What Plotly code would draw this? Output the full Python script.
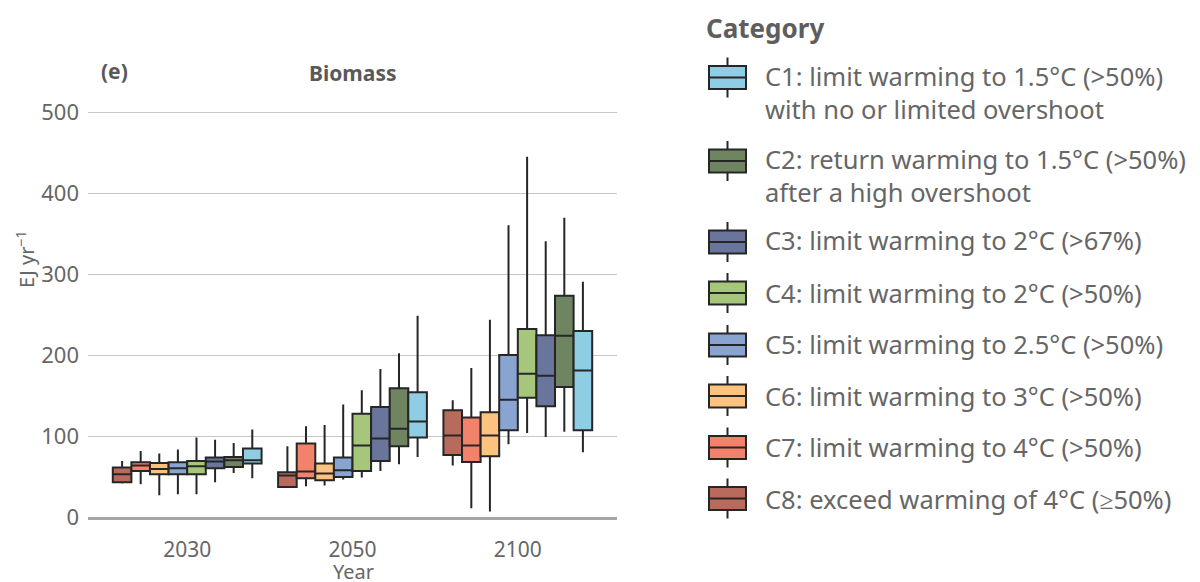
import plotly.graph_objects as go

years = ["2030", "2050", "2100"]

categories = ["C8", "C7", "C6", "C5", "C4", "C3", "C2", "C1"]
legend_text = {
    "C1": "C1: limit warming to 1.5°C (>50%)<br>with no or limited overshoot",
    "C2": "C2: return warming to 1.5°C (>50%)<br>after a high overshoot",
    "C3": "C3: limit warming to 2°C (>67%)",
    "C4": "C4: limit warming to 2°C (>50%)",
    "C5": "C5: limit warming to 2.5°C (>50%)",
    "C6": "C6: limit warming to 3°C (>50%)",
    "C7": "C7: limit warming to 4°C (>50%)",
    "C8": "C8: exceed warming of 4°C (≥50%)",
}
colors = {
    "C1": "#8fcde4", "C2": "#6f8460", "C3": "#69759a", "C4": "#a6c67c",
    "C5": "#8aa4d2", "C6": "#fcc280", "C7": "#f2826c", "C8": "#b86b5d",
}

# values per category for [2030, 2050, 2100]  (EJ/yr)
lower = {
    "C1": [47.8, 74.1, 79.9], "C2": [54.4, 65.1, 105.4], "C3": [42.9, 56.8, 98.8],
    "C4": [28.1, 48.7, 103.7], "C5": [28.1, 46.2, 89.8], "C6": [26.9, 38.8, 6.8],
    "C7": [40.4, 38.0, 10.9], "C8": [41.3, 36.4, 63.5],
}
q1 = {
    "C1": [66.0, 98.0, 107.0], "C2": [61.8, 87.3, 160.4], "C3": [60.2, 69.2, 136.6],
    "C4": [52.8, 56.8, 147.3], "C5": [52.8, 49.4, 107.0], "C6": [52.8, 45.4, 75.0],
    "C7": [56.8, 47.8, 68.0], "C8": [42.9, 37.1, 76.6],
}
median = {
    "C1": [70.0, 117.8, 181.0], "C2": [70.0, 109.1, 223.8], "C3": [68.4, 96.8, 174.5],
    "C4": [62.6, 88.2, 176.9], "C5": [60.2, 57.7, 144.9], "C6": [59.3, 53.6, 100.5],
    "C7": [63.5, 56.1, 88.2], "C8": [52.8, 51.2, 100.5],
}
q3 = {
    "C1": [84.5, 153.9, 229.5], "C2": [74.1, 158.8, 273.1], "C3": [73.4, 135.8, 224.5],
    "C4": [69.2, 127.6, 232.0], "C5": [67.6, 73.4, 199.9], "C6": [66.7, 66.0, 129.2],
    "C7": [67.6, 90.6, 122.7], "C8": [61.0, 55.2, 131.7],
}
upper = {
    "C1": [107.9, 248.4, 290.4], "C2": [91.4, 202.3, 369.3], "C3": [95.5, 182.6, 340.5],
    "C4": [98.0, 156.4, 444.9], "C5": [83.2, 139.0, 360.2], "C6": [78.3, 113.6, 243.5],
    "C7": [81.5, 112.0, 183.9], "C8": [69.0, 87.3, 144.0],
}

y_ticks = [0, 100, 200, 300, 400, 500]

FONT = "Noto Sans"
GRAY = "#666666"
DARK = "#262626"

# ---- layout geometry (page is offset by the 8px body margin) ----
OFF = 8
W, H = 1200 - OFF, 582 - OFF
PL, PR, PT, PB = 88, 617, 92, 517          # plot box in screen pixels
L, R, T, B = PL - OFF, W - (PR - OFF), PT - OFF, H - (PB - OFF)


def px(sx):
    return (sx - PL) / (PR - PL)


def py(sy):
    return (PB - sy) / (PB - PT)


fig = go.Figure()
for c in categories:
    fig.add_trace(go.Box(
        x=years,
        q1=q1[c], median=median[c], q3=q3[c],
        lowerfence=lower[c], upperfence=upper[c],
        name=legend_text[c].replace("<br>", " "),
        fillcolor=colors[c],
        line=dict(color=DARK, width=2),
        whiskerwidth=0,
        showlegend=False,
        hoverinfo="skip",
    ))

annotations = [
    dict(text="<b>Biomass</b>", x=px(353), y=py(73), xanchor="center", yanchor="middle",
         font=dict(family=FONT, size=21, color="#595959")),
    dict(text="<b>(e)</b>", x=px(114), y=py(71), xanchor="center", yanchor="middle",
         font=dict(family=FONT, size=21, color="#595959")),
    dict(text="EJ yr<sup>−1</sup>", x=px(25), y=py(260), xanchor="center", yanchor="middle",
         textangle=-90, font=dict(family=FONT, size=20, color=GRAY)),
    dict(text="Year", x=px(353), y=py(571), xanchor="center", yanchor="middle",
         font=dict(family=FONT, size=20, color=GRAY)),
    dict(text="<b>Category</b>", x=px(704), y=py(28), xanchor="left", yanchor="middle",
         font=dict(family=FONT, size=26, color="#5e5e5e")),
]

# ---- custom legend (box icons + text) ----
icon_centers = {"C1": 77.5, "C2": 161, "C3": 242, "C4": 293,
                "C5": 345, "C6": 396, "C7": 447.5, "C8": 498.5}
text_centers = {"C1": 93, "C2": 175, "C3": 240, "C4": 292.5,
                "C5": 344, "C6": 395.5, "C7": 447, "C8": 498.5}
shapes = []
IX0, IX1, ICX = 709, 746, 727.5
for c in ["C1", "C2", "C3", "C4", "C5", "C6", "C7", "C8"]:
    cy = icon_centers[c]
    shapes.append(dict(type="line", xref="paper", yref="paper",
                       x0=px(ICX), x1=px(ICX), y0=py(cy - 20), y1=py(cy + 20),
                       line=dict(color=DARK, width=2)))
    shapes.append(dict(type="rect", xref="paper", yref="paper",
                       x0=px(IX0), x1=px(IX1), y0=py(cy - 11.5), y1=py(cy + 11.5),
                       fillcolor=colors[c], line=dict(color=DARK, width=2)))
    shapes.append(dict(type="line", xref="paper", yref="paper",
                       x0=px(IX0), x1=px(IX1), y0=py(cy), y1=py(cy),
                       line=dict(color=DARK, width=2)))
    annotations.append(dict(
        text=legend_text[c], x=px(763), y=py(text_centers[c]), xanchor="left",
        yanchor="middle", align="left",
        font=dict(family=FONT, size=25.5, color=GRAY)))

for a in annotations:
    a.update(xref="paper", yref="paper", showarrow=False)

fig.update_layout(
    width=W, height=H,
    margin=dict(l=L, r=R, t=T, b=B, autoexpand=False),
    paper_bgcolor="white", plot_bgcolor="white",
    boxmode="group", boxgap=0.1, boxgroupgap=0,
    font=dict(family=FONT, color=GRAY),
    showlegend=False,
    xaxis=dict(
        type="category", range=[-0.6, 2.6],
        showline=True, linecolor="#a6a6a6", linewidth=3,
        showgrid=False, ticks="", automargin=False,
        tickfont=dict(size=21, color=GRAY),
        ticklabelstandoff=12,
    ),
    yaxis=dict(
        range=[0, 524.7],
        tickvals=y_ticks,
        showgrid=True, gridcolor="#c8c8c8", gridwidth=1,
        zeroline=False, showline=False, ticks="", automargin=False,
        tickfont=dict(size=22, color=GRAY),
        ticklabelstandoff=8,
    ),
    annotations=annotations,
    shapes=shapes,
)

fig.write_html("out.html")
